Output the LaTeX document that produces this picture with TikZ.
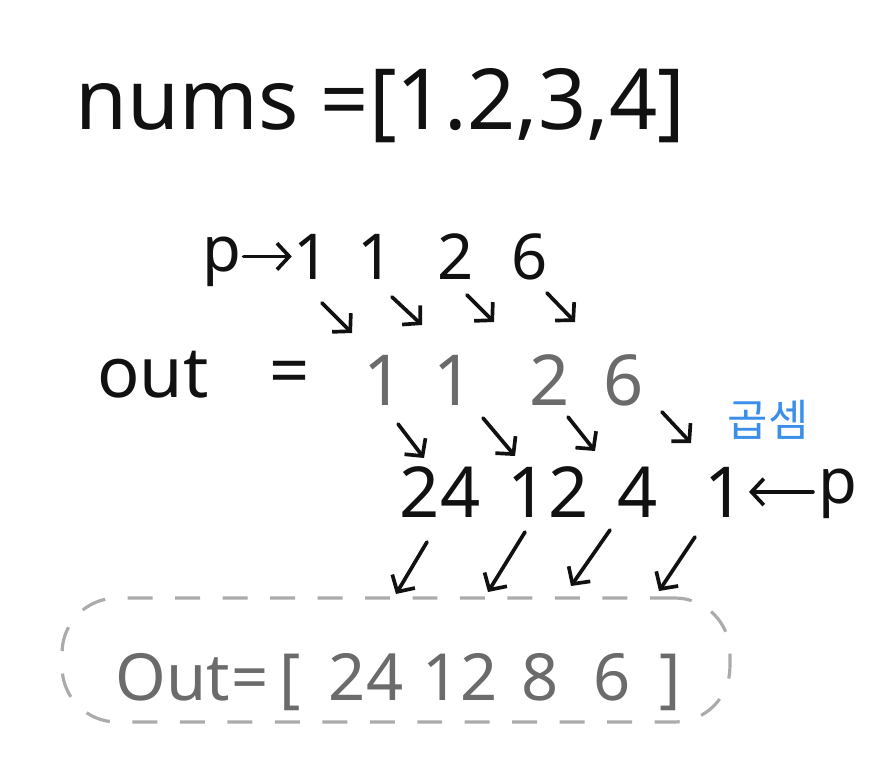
\documentclass[tikz,border=0pt]{standalone}
\usepackage{fontspec}
\setmainfont{Noto Sans}
\newfontfamily\krfont{Noto Sans CJK KR}
\usetikzlibrary{arrows.meta}
\definecolor{ink}{HTML}{111111}
\definecolor{pencil}{HTML}{6B6B6B}
\definecolor{dashgray}{HTML}{ABABAB}
\definecolor{noteblue}{HTML}{3B8EEA}

\begin{document}
\begin{tikzpicture}[x=0.02cm, y=-0.02cm]
\tikzset{
  big/.style={inner sep=0pt, font=\fontsize{48}{52}\selectfont, text=ink},
  num/.style={inner sep=0pt, anchor=base, font=\fontsize{40}{44}\selectfont, text=ink},
  top/.style={num, font=\fontsize{36}{40}\selectfont},
  faded/.style={num, text=pencil, font=\fontsize{37}{40}\selectfont},
  arr/.style={draw=ink, line width=2.1pt, line cap=round,
    -{Straight Barb[length=7pt, width=15pt, line width=2.1pt]}},
  frame/.style={draw=dashgray, line width=1.8pt, dash pattern=on 0.5cm off 0.45cm,
    rounded corners=1.1cm, minimum width=13.36cm, minimum height=2.48cm}
}
\useasboundingbox (0,0) rectangle (896,767);
% input
\node[big, anchor=base west] (nums) at (75,130) {nums =[1.2,3,4]};
% prefix products
\node[top, anchor=center] (pl) at (222,262) {p};
\node[top] (t1) at (312,279) {1};
\node[top] (t2) at (376,279) {1};
\node[top] (t3) at (456,279) {2};
\node[top] (t4) at (530,279) {6};
\draw[arr, shorten <=1pt, shorten >=1pt] (pl.east |- t1.west) -- (t1.west);
% out after first pass
\node[num] (outl) at (153,397) {out};
\node[num, anchor=center] (outeq) at (290,378) {=};
\node[faded, font=\fontsize{40}{44}\selectfont] (g1) at (384,405) {1};
\node[faded, font=\fontsize{40}{44}\selectfont] (g2) at (454,405) {1};
\node[faded, font=\fontsize{40}{44}\selectfont] (g3) at (550,405) {2};
\node[faded, font=\fontsize{40}{44}\selectfont] (g4) at (624,405) {6};
% suffix products
\node[inner sep=0pt, text=noteblue, font=\krfont\fontsize{25}{28}\selectfont] (mul) at (768,420) {곱셈};
\node[num] (r1) at (440,517) {24};
\node[num] (r2) at (548,517) {12};
\node[num] (r3) at (638,517) {4};
\node[num] (r4) at (725,517) {1};
\node[top, anchor=center] (pr) at (838,494) {p};
\draw[arr, shorten <=3pt, shorten >=2pt] (pr.west |- r4.west) -- (r4.east);
% diagonal arrows
\foreach \i/\sx/\sy/\ex/\ey in {1/322/303/352/333, 2/392/297/422/325, 3/467/295/494/322,
  4/547/293/575/322, 5/398/424/424/458, 6/483/418/515/456, 7/568/417/595/451,
  8/662/412/691/443, 9/427/542/396/594, 10/525/532/488/592, 11/610/530/571/586,
  12/695/537/659/591} {
  \coordinate (da\i) at (\sx,\sy);
  \coordinate (db\i) at (\ex,\ey);
  \draw[arr] (da\i) -- (db\i);
}
% result
\node[frame] (box) at (396,660) {};
\node[faded, anchor=base east] (bout) at (230,700) {Out};
\node[faded] (beq) at (250,700) {=};
\node[faded] (bl) at (290,700) {[};
\node[faded] (b1) at (366,700) {24};
\node[faded] (b2) at (460,700) {12};
\node[faded] (b3) at (540,700) {8};
\node[faded] (b4) at (612,700) {6};
\node[faded] (br) at (670,700) {]};
\end{tikzpicture}
\end{document}
